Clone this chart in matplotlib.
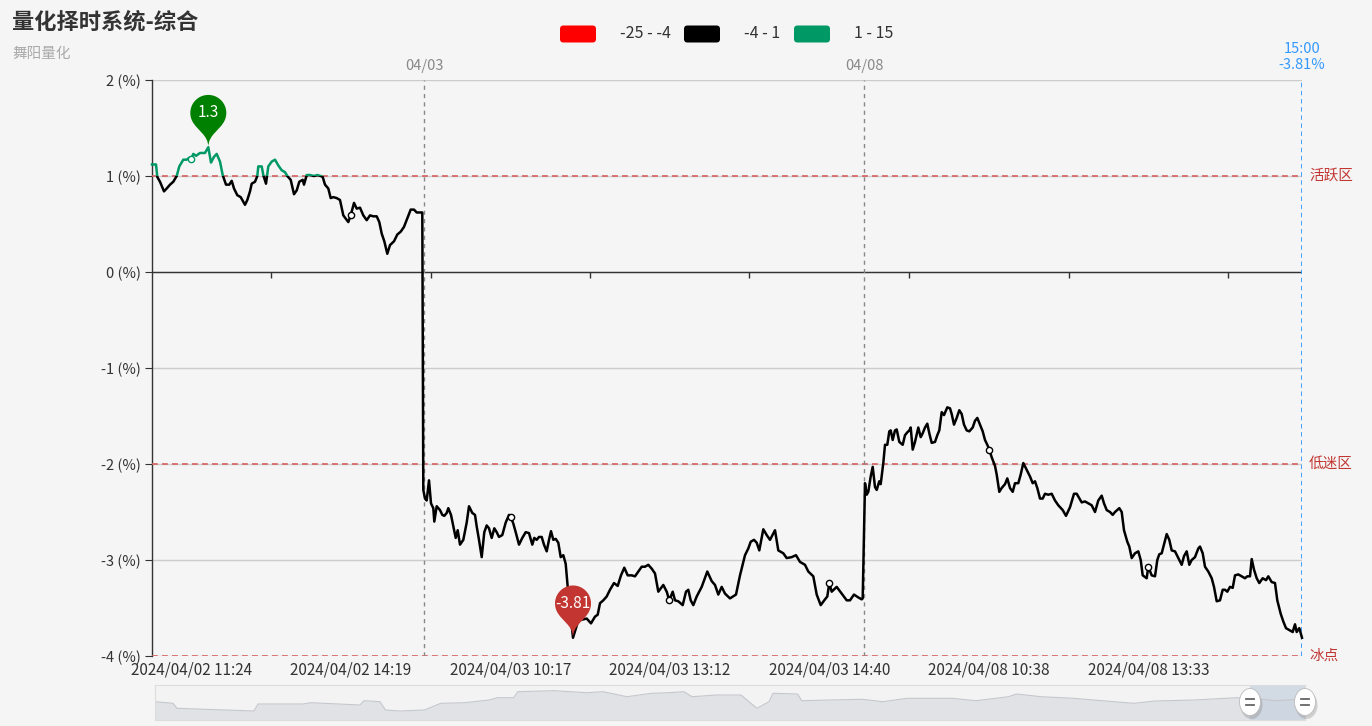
import numpy as np
import matplotlib
matplotlib.use('Agg')
import matplotlib.pyplot as plt
from matplotlib.path import Path
from matplotlib.patches import PathPatch, FancyBboxPatch, Ellipse, Rectangle
from matplotlib import transforms

plt.rcParams['font.family'] = ['Noto Sans CJK SC', 'DejaVu Sans']

# ---------------- data ----------------
title = '量化择时系统-综合'
subtitle = '舞阳量化'

# position along category axis (0..1150) and value in %
day1_t = [0, 4, 5.3, 8, 12, 14.7, 18, 21.3, 24.7, 27.3, 31.3, 34.7, 37.3, 39.3, 41.3, 44, 48, 53, 56.3, 59,
          62, 64.7, 68, 70.7, 74, 77.3, 79.7, 82, 85.3, 88.7, 93, 95.3, 98, 99.7, 103, 105.3, 106.3, 109.7,
          111.3, 114, 116.3, 119.7, 123, 126.3, 129.7, 133, 135.3, 138.7, 142, 144.7, 147.3, 150.7, 152,
          154.7, 158, 162, 165.3, 168.7, 170.7, 173, 176.3, 178.7, 181.3, 184.7, 188, 191.3, 196.3, 198.7,
          202, 204.7, 208, 211.3, 214.7, 218, 221.3, 224.7, 227.3, 229.7, 232.3, 235.3, 238, 242, 245.3,
          248.7, 252, 255.3, 258.7, 262, 264.7, 270.3]
day1_v = [1.12, 1.12, 0.99, 0.94, 0.84, 0.87, 0.91, 0.94, 1.00, 1.10, 1.17, 1.17, 1.19, 1.18, 1.23, 1.21,
          1.24, 1.24, 1.30, 1.14, 1.20, 1.23, 1.15, 1.01, 0.91, 0.91, 0.95, 0.87, 0.80, 0.78, 0.70, 0.75,
          0.84, 0.92, 0.94, 1.00, 1.10, 1.10, 1.01, 0.92, 1.10, 1.15, 1.17, 1.11, 1.06, 1.04, 1.00, 0.96,
          0.81, 0.85, 0.94, 0.96, 0.91, 1.01, 1.01, 1.00, 1.01, 1.00, 0.99, 0.91, 0.87, 0.77, 0.78, 0.77,
          0.75, 0.59, 0.52, 0.59, 0.72, 0.66, 0.67, 0.59, 0.54, 0.59, 0.58, 0.58, 0.52, 0.40, 0.32, 0.19,
          0.28, 0.32, 0.39, 0.42, 0.47, 0.56, 0.65, 0.65, 0.62, 0.62]

day2_t = [271.3, 273, 274.7, 277, 279, 281.3, 282.3, 284.7, 288, 290.3, 292.3, 294.7, 296.3, 299, 301.3,
          303.7, 305.7, 308, 311.3, 314.7, 317, 320.3, 323, 324.7, 327, 329.7, 332.3, 334.7, 337, 339.7,
          342.3, 344.7, 347, 350.3, 353.7, 357, 358.7, 361.3, 363.7, 367, 370.3, 373.7, 377, 380.3, 382.3,
          384.7, 387, 389.7, 392, 394.7, 397, 399, 401.3, 403.7, 406.3, 408.7, 411.3, 413.7, 415.7, 421,
          426.3, 434.7, 439, 443, 445.7, 448, 451.3, 454.7, 458, 462, 465.7, 469, 472.3, 475.7, 479.7, 483,
          486.3, 489.7, 493, 496.3, 499.7, 503, 506.3, 511.3, 514.7, 517.3, 520.7, 523, 526.3, 530.7, 534,
          536.3, 538.7, 541.3, 544.7, 549.7, 555.3, 559.7, 563, 566.3, 569.7, 573, 578, 584, 588, 593,
          596.3, 598.7, 602, 604.7, 607.3, 611.3, 614.7, 618, 623, 626.3, 631.3, 634.7, 639.7, 644, 648,
          653, 656.3, 661.3, 664.7, 668.7, 673, 675.3, 677.3, 679.7, 684.7, 689.7, 694.7, 698, 702, 706.3,
          709.7, 710.7]
day2_v = [-2.27, -2.36, -2.38, -2.17, -2.41, -2.46, -2.60, -2.44, -2.48, -2.53, -2.54, -2.51, -2.46, -2.53,
          -2.65, -2.77, -2.69, -2.84, -2.79, -2.61, -2.44, -2.51, -2.53, -2.65, -2.79, -2.97, -2.71, -2.64,
          -2.67, -2.77, -2.67, -2.71, -2.76, -2.74, -2.61, -2.53, -2.55, -2.62, -2.71, -2.84, -2.77, -2.71,
          -2.72, -2.84, -2.77, -2.79, -2.76, -2.76, -2.84, -2.91, -2.79, -2.70, -2.79, -2.78, -2.82, -2.97,
          -2.95, -3.04, -3.28, -3.81, -3.63, -3.61, -3.66, -3.59, -3.57, -3.45, -3.42, -3.38, -3.31, -3.24,
          -3.27, -3.16, -3.08, -3.16, -3.16, -3.17, -3.12, -3.07, -3.07, -3.05, -3.09, -3.14, -3.33, -3.26,
          -3.33, -3.42, -3.33, -3.42, -3.43, -3.47, -3.33, -3.31, -3.42, -3.47, -3.38, -3.28, -3.12, -3.22,
          -3.26, -3.36, -3.28, -3.35, -3.40, -3.36, -3.16, -2.95, -2.88, -2.81, -2.79, -2.82, -2.90, -2.68,
          -2.74, -2.79, -2.69, -2.90, -2.93, -2.98, -2.97, -2.95, -3.02, -3.05, -3.12, -3.17, -3.36, -3.47,
          -3.41, -3.38, -3.24, -3.33, -3.28, -3.35, -3.42, -3.42, -3.36, -3.39, -3.41, -3.40]

day3_t = [713, 714.7, 716.3, 718.7, 720.7, 723, 724.7, 727.3, 728.7, 731.3, 733, 735.3, 737.3, 738.7, 740.7,
          743, 744.7, 747.3, 750.7, 753, 755.3, 757.3, 758.7, 760.7, 763, 766.3, 768.7, 770.7, 773, 775.3,
          777.3, 779.7, 783, 785.3, 787.3, 789.7, 792, 795.3, 798, 799.7, 802, 804.7, 807.3, 809.7, 812,
          814.7, 817.3, 820.7, 823, 825.3, 828, 830.7, 833, 835.3, 837.3, 839.7, 843, 844.7, 847.3, 849.7,
          853, 855.3, 858, 860.7, 863, 866.3, 868.7, 871.3, 874.7, 878, 880.7, 883, 885.3, 888, 890.7, 893,
          896.3, 899.7, 903, 906.3, 910.7, 914, 918, 922, 924.7, 929.7, 933, 936.3, 939.7, 943, 946.3,
          949.7, 952, 954.7, 958, 960.7, 963, 967.3, 969.7, 972, 975.3, 977.3, 979.7, 983, 986.3, 988.7,
          990.7, 994.7, 996.3, 999.7, 1003, 1005.3, 1007.3, 1009.7, 1012, 1014.7, 1017.3, 1019.7, 1023,
          1026.3, 1029.7, 1032, 1034.7, 1037.3, 1039.7, 1043, 1046.3, 1048, 1050.7, 1053, 1056.3, 1059.7,
          1062, 1064.7, 1068, 1070.7, 1073, 1075.3, 1078, 1080.7, 1083, 1086.3, 1089.7, 1093, 1095.3, 1098,
          1099.7, 1102, 1104.7, 1107.3, 1110.7, 1114, 1116.3, 1119.7, 1123, 1125.3, 1128.7, 1131.3, 1134,
          1137.3, 1140.7, 1143, 1144.7, 1147.3, 1149.7, 1150]
day3_v = [-2.20, -2.32, -2.29, -2.13, -2.03, -2.24, -2.27, -2.18, -2.21, -1.99, -1.80, -1.80, -1.66, -1.65,
          -1.75, -1.65, -1.64, -1.77, -1.80, -1.70, -1.67, -1.65, -1.62, -1.85, -1.77, -1.62, -1.72, -1.68,
          -1.62, -1.58, -1.68, -1.78, -1.77, -1.70, -1.65, -1.46, -1.49, -1.41, -1.42, -1.48, -1.59, -1.52,
          -1.44, -1.48, -1.59, -1.65, -1.66, -1.62, -1.55, -1.52, -1.59, -1.66, -1.75, -1.80, -1.85, -1.93,
          -2.02, -2.11, -2.29, -2.25, -2.21, -2.15, -2.25, -2.29, -2.20, -2.20, -2.11, -1.99, -2.06, -2.13,
          -2.20, -2.18, -2.25, -2.36, -2.36, -2.31, -2.32, -2.31, -2.38, -2.43, -2.48, -2.54, -2.45, -2.31,
          -2.31, -2.40, -2.39, -2.41, -2.43, -2.50, -2.38, -2.33, -2.41, -2.48, -2.50, -2.53, -2.50, -2.46,
          -2.50, -2.69, -2.81, -2.86, -2.98, -2.93, -2.91, -3.00, -3.16, -3.19, -3.07, -3.16, -3.17, -3.00,
          -2.94, -2.93, -2.84, -2.73, -2.79, -2.90, -2.91, -2.98, -3.05, -2.96, -2.91, -3.05, -3.00, -2.97,
          -2.88, -2.86, -2.93, -3.07, -3.12, -3.19, -3.28, -3.43, -3.42, -3.31, -3.31, -3.33, -3.28, -3.29,
          -3.16, -3.15, -3.17, -3.19, -3.17, -3.17, -2.99, -3.10, -3.19, -3.24, -3.19, -3.21, -3.17, -3.23,
          -3.24, -3.42, -3.56, -3.64, -3.71, -3.73, -3.75, -3.67, -3.75, -3.71, -3.80, -3.81]

x_label_pos = [39.3, 198.7, 358.7, 517.3, 677.3, 837.3, 996.3]
x_labels = ['2024/04/02 11:24', '2024/04/02 14:19', '2024/04/03 10:17', '2024/04/03 13:12',
            '2024/04/03 14:40', '2024/04/08 10:38', '2024/04/08 13:33']
day_start_pos = [272, 712]
day_labels = ['04/03', '04/08']
end_time = '15:00'

y_ticks = [-4, -3, -2, -1, 0, 1, 2]
zones = [(1, '活跃区'), (-2, '低迷区'), (-4, '冰点')]
pieces = [(-25, -4, '#ff0000'), (-4, 1, '#000000'), (1, 15, '#009966')]

# overview (dataZoom shadow) – full history, relative heights
ov_t = [0, 18, 22, 50, 99, 103, 148, 156, 205, 209, 225, 230.5, 245, 269.5, 285.7, 310, 334, 342.5, 358.7,
        362.8, 399, 431.7, 448, 472, 496.6, 513, 529, 537, 561.5, 586, 594, 602, 614, 618, 642.6, 646.7,
        675, 707.5, 728, 752, 797, 821, 853.5, 861.7, 886, 918.5, 959, 979, 999.6, 1040, 1080.7, 1097,
        1121, 1145.6, 1150]
ov_h = [18.3, 16.7, 11.7, 10.7, 9, 16, 16, 17.3, 15, 19.3, 18.3, 10, 9, 10, 16.7, 17.3, 20, 22.3, 22.3,
        28.3, 29.3, 27.3, 28.3, 23.3, 26.7, 27.3, 28.3, 23.3, 25, 25, 18.3, 11.7, 18.3, 26.7, 26, 19.3,
        20, 20.7, 18.3, 21.7, 21.7, 19.3, 23.3, 26, 23.3, 21.7, 18.3, 16.7, 19, 20, 22.3, 21.7, 19.3,
        20.7, 20.7]
window = (1095, 1150)

# ---------------- figure ----------------
W, H = 1372, 726
BG = '#f5f5f5'
fig = plt.figure(figsize=(W / 100, H / 100), dpi=100, facecolor=BG)

L, R, T, B = 152, 1302, 80, 656
ax = fig.add_axes([L / W, 1 - B / H, (R - L) / W, (B - T) / H])
ax.set_facecolor(BG)

t = np.array(day1_t + day2_t + day3_t)
v = np.array(day1_v + day2_v + day3_v)
ax.set_xlim(0, 1150)
ax.set_ylim(-4, 2)

TXT = '#333333'
# grid
ax.set_yticks(y_ticks)
ax.set_yticklabels([f'{y} (%)' for y in y_ticks])
ax.grid(axis='y', color='#cccccc', lw=1, zorder=0)
ax.tick_params(axis='y', length=5, color=TXT, labelcolor=TXT, labelsize=10.5, pad=3)
for s in ['top', 'right', 'bottom']:
    ax.spines[s].set_visible(False)
ax.spines['left'].set_color(TXT)
ax.spines['left'].set_linewidth(1)

ax.set_xticks(x_label_pos)
ax.set_xticklabels(x_labels)
ax.tick_params(axis='x', length=0, labelcolor=TXT, labelsize=11, pad=4)

# zero axis with ticks between labels
ax.axhline(0, color=TXT, lw=1, zorder=2)
step = x_label_pos[1] - x_label_pos[0]
mid_ticks = [(a + b) / 2 for a, b in zip(x_label_pos[:-1], x_label_pos[1:])] + [x_label_pos[-1] + step / 2]
ax.plot(mid_ticks, [0] * len(mid_ticks), linestyle='none', marker=3, markersize=4.5,
        color=TXT, markeredgewidth=1, zorder=2)

# zone lines
for yv, name in zones:
    ax.axhline(yv, color='#d66060', lw=1.2, linestyle=(0, (3.5, 2.5)), zorder=3)
    ax.annotate(name, xy=(1, yv), xycoords=('axes fraction', 'data'), xytext=(7, 0),
                textcoords='offset pixels', ha='left', va='center', color='#c23531', fontsize=10.5,
                annotation_clip=False)

# day separators
for pos, lab in zip(day_start_pos, day_labels):
    ax.axvline(pos, color='#888888', lw=1, linestyle=(0, (3, 3)), zorder=3)
    ax.annotate(lab, xy=(pos, 2), xycoords='data', xytext=(0, 14), textcoords='offset pixels',
                ha='center', va='center', color='#888888', fontsize=10.5, annotation_clip=False)

# end marker line
ax.axvline(t[-1], color='#3399ff', lw=1.3, linestyle=(0, (2.5, 2)), zorder=4)
ax.annotate(f'{end_time}\n{v[-1]:.2f}%', xy=(t[-1], 2), xycoords='data', xytext=(0, 23),
            textcoords='offset pixels', ha='center', va='center', color='#3399ff', fontsize=10.5,
            linespacing=1.12, annotation_clip=False)

# series, coloured by pieces
for lo, hi, col in pieces:
    line, = ax.plot(t, v, color=col, lw=1.8, zorder=5, solid_joinstyle='round')
    clip = Rectangle((-50, lo), 1300, hi - lo, transform=ax.transData)
    line.set_clip_path(clip)

# symbols at labelled points
for lp in x_label_pos:
    i = int(np.argmin(np.abs(t - lp)))
    ec = '#009966' if v[i] > 1 else '#000000'
    ax.plot(t[i], v[i], marker='o', markersize=4.5, markerfacecolor='white', markeredgecolor=ec,
            markeredgewidth=1, zorder=6)


# pins (max / min)
def pin_path(size=60):
    w = size / 5 * 3
    h = size
    r = w / 2
    dy = r * r / (h - r)
    cy = h - r - dy
    a = np.arcsin(dy / r)
    dx = np.cos(a) * r
    tx, ty = np.sin(a), np.cos(a)
    c1, c2 = r * 0.6, r * 0.7
    th = np.linspace(np.pi + a, -a, 60)
    verts = [(r * np.cos(x), cy + r * np.sin(x)) for x in th]
    codes = [Path.MOVETO] + [Path.LINETO] * (len(verts) - 1)
    verts += [(dx - tx * c1, cy - dy - ty * c1), (0, c2), (0, 0),
              (0, c2), (-dx + tx * c1, cy - dy - ty * c1), (-dx, cy - dy), (-dx, cy - dy)]
    codes += [Path.CURVE4] * 6 + [Path.CLOSEPOLY]
    return Path(verts, codes), cy


pp, pin_cy = pin_path(60)
imax, imin = int(np.argmax(v)), int(np.argmin(v))
for i, col in [(imax, '#008000'), (imin, '#c23531')]:
    tr = transforms.Affine2D() + transforms.ScaledTranslation(t[i], v[i], ax.transData)
    patch = PathPatch(pp, facecolor=col, edgecolor='none', transform=tr, zorder=8, clip_on=False)
    ax.add_artist(patch)
    ax.annotate(f'{v[i]:g}', xy=(t[i], v[i]), xytext=(0, pin_cy), textcoords='offset pixels',
                ha='center', va='center', color='white', fontsize=11, zorder=9, annotation_clip=False)

# ---------------- dataZoom slider ----------------
SL, SR, ST, SB = 155, 1305, 685, 720
sax = fig.add_axes([SL / W, 1 - SB / H, (SR - SL) / W, (SB - ST) / H])
sax.set_facecolor('#f3f3f3')
sax.set_xlim(0, 1150)
sax.set_ylim(0, 35)
sax.fill_between(ov_t, 0, ov_h, color='#e0e2e6', lw=0)
sax.plot(ov_t, ov_h, color='#c4c7cc', lw=0.8)
sax.axvspan(window[0], window[1], color='#c8d2e0', alpha=0.75, lw=0)
sax.set_xticks([])
sax.set_yticks([])
for s in sax.spines.values():
    s.set_color('#dddddd')

# ---------------- overlay (title, legend, slider handles) ----------------
ov = fig.add_axes([0, 0, 1, 1], facecolor='none')
ov.set_zorder(10)
ov.set_xlim(0, W)
ov.set_ylim(H, 0)
ov.axis('off')

ov.text(12, 22, title, fontsize=16, fontweight='bold', color=TXT, ha='left', va='center')
ov.text(12, 54, subtitle, fontsize=10.5, color='#aaaaaa', ha='left', va='center')

leg_x = [560, 684, 794]
leg_txt = [f'{lo} - {hi}' for lo, hi, _ in pieces]
for x0, (lo, hi, col), txt in zip(leg_x, pieces, leg_txt):
    ov.add_patch(FancyBboxPatch((x0, 25.5), 36, 17, boxstyle='round,pad=0,rounding_size=3.5',
                                facecolor=col, edgecolor='none'))
    ov.text(x0 + 60, 33.5, txt, fontsize=11.5, color=TXT, ha='left', va='center')

for hx_frac in window:
    hx = SL + hx_frac / 1150 * (SR - SL)
    ov.add_patch(Ellipse((hx + 1.5, 705), 22, 28, facecolor='#888888', alpha=0.35, edgecolor='none'))
    ov.add_patch(Ellipse((hx, 702), 21, 27, facecolor='white', edgecolor='#bbbbbb', lw=0.6))
    ov.plot([hx - 4, hx + 4], [699, 699], color='#666666', lw=1.3)
    ov.plot([hx - 4, hx + 4], [705, 705], color='#666666', lw=1.3)

fig.savefig('out.png', dpi=100, facecolor=BG)
